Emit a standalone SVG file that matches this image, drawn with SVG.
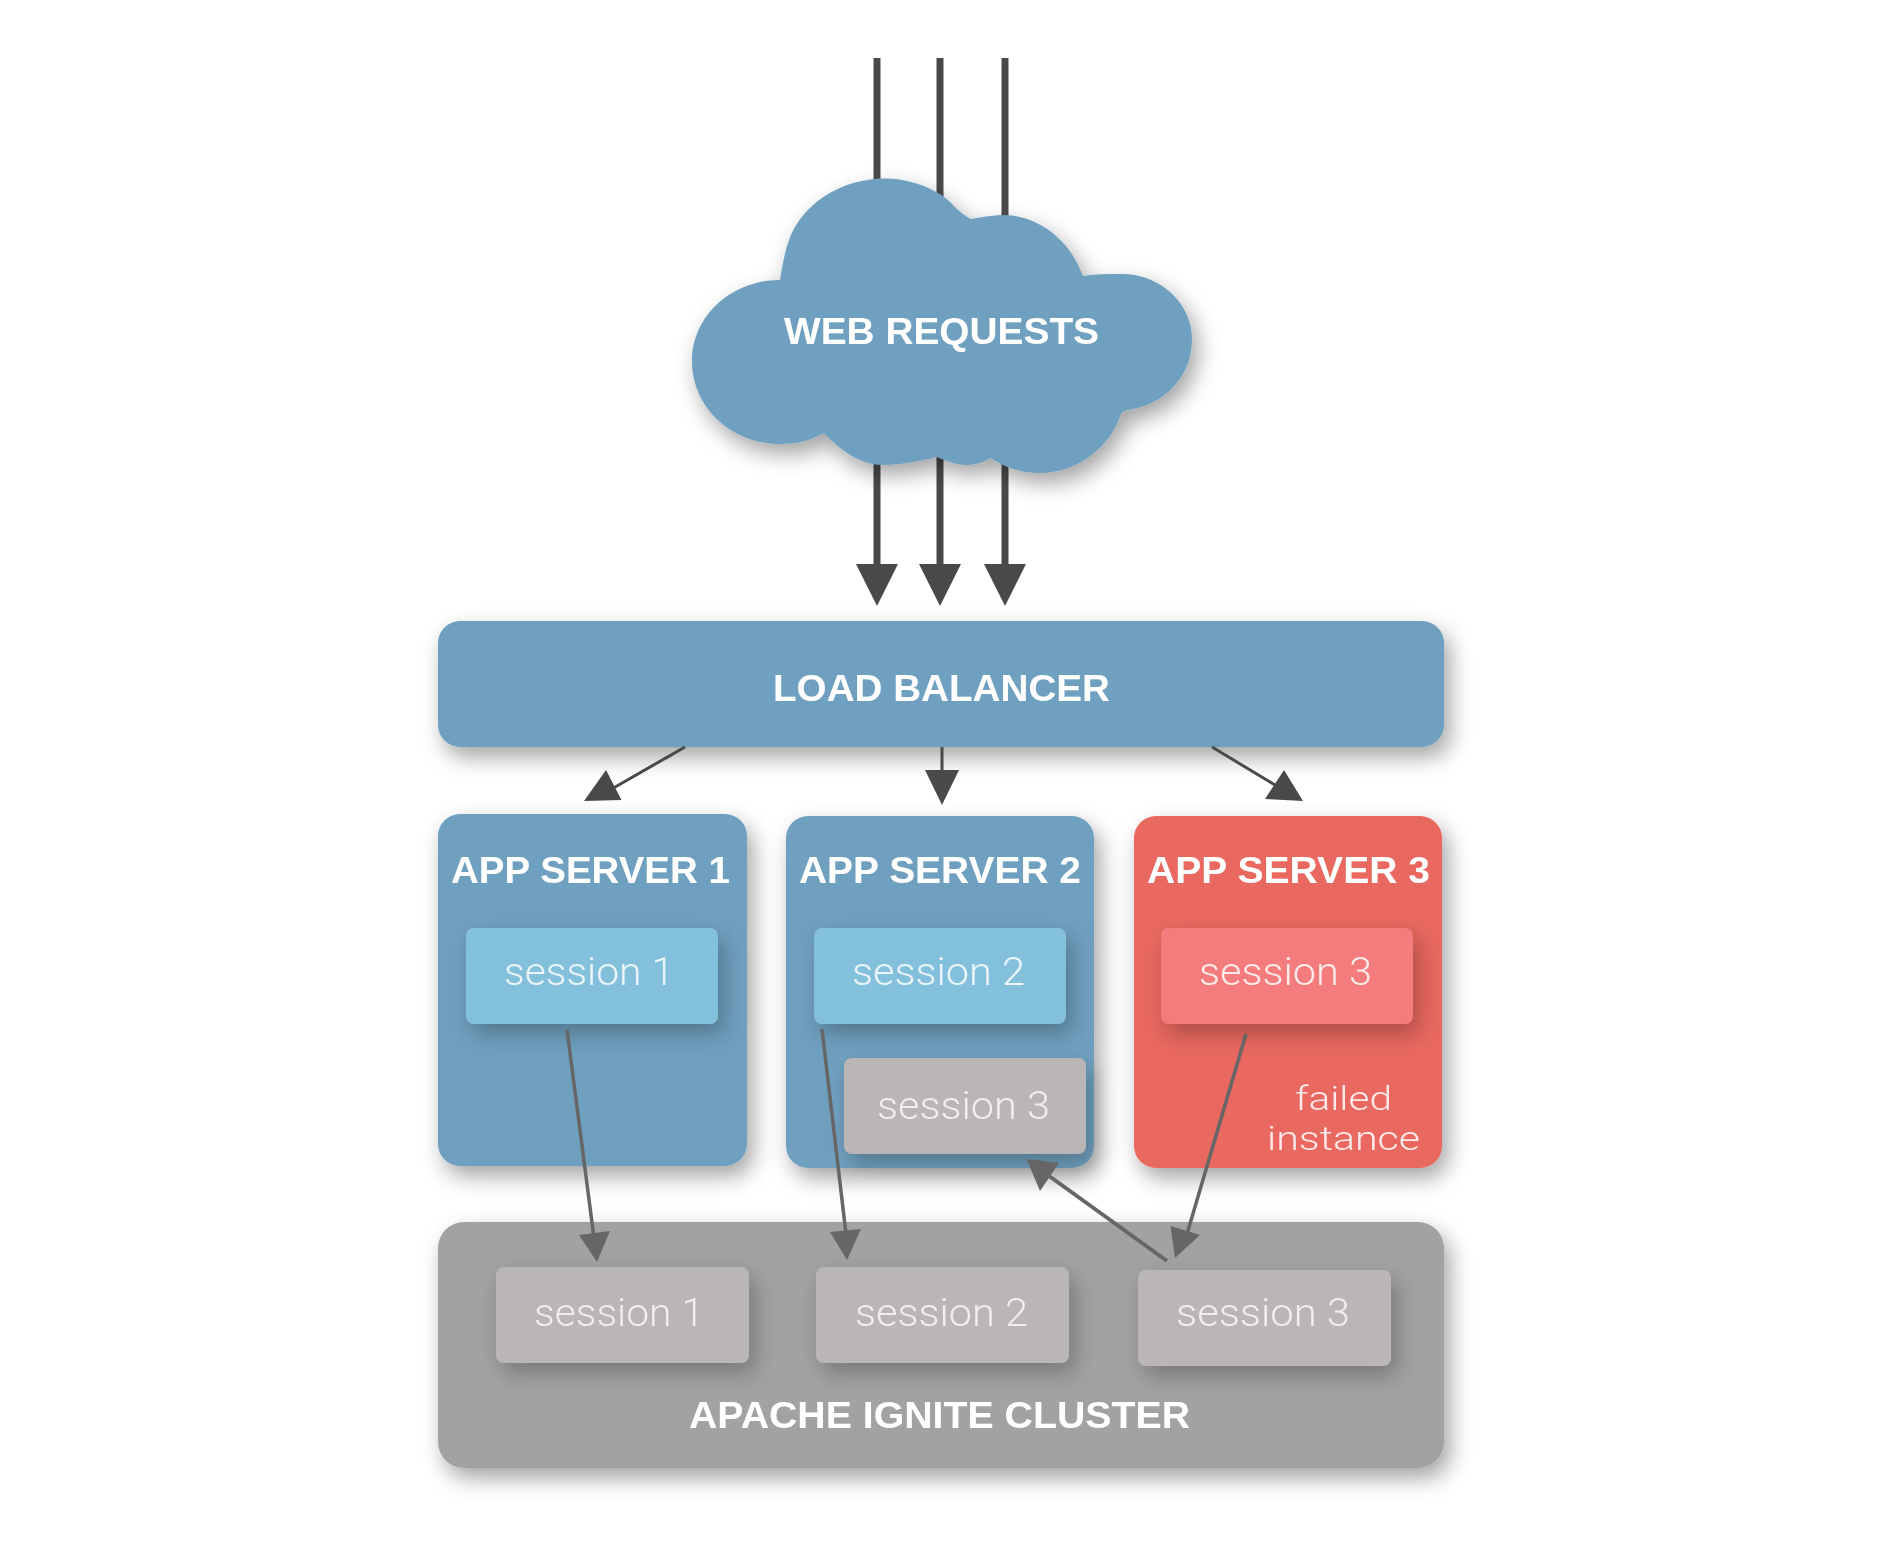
<svg xmlns="http://www.w3.org/2000/svg" width="1902" height="1568" viewBox="0 0 1902 1568">
<style>
text{font-family:"Liberation Sans",Arial,sans-serif;fill:#fff;text-anchor:start}
.t{font-weight:700;font-size:37px}
.s{font-family:Roboto,"Liberation Sans",sans-serif;font-weight:300;font-size:38px;fill:#ecf4f8}
.g{fill:#f0eeee}
.p{fill:#fdeaea}
.f{font-size:34px}
.blue{fill:#6fa0bf}.red{fill:#e96760}.lb{fill:#83c0dc}.lr{fill:#f57b7c}.gb{fill:#b9b6b5}.cl{fill:#a2a2a2}
.sh{filter:url(#shadow)}
.ss{filter:url(#shadow2)}
.w{stroke:#4a4a4a;stroke-width:7;fill:none}
.n{stroke:#4a4a4a;stroke-width:3;fill:none}
.m{stroke:#666;stroke-width:3.5;fill:none}
.ah{fill:#4a4a4a}.ag{fill:#666}
</style>
<defs>
<filter id="shadow" x="-25%" y="-25%" width="155%" height="165%"><feDropShadow dx="6" dy="10" stdDeviation="11" flood-color="#000" flood-opacity=".36"/></filter>
<filter id="shadow2" x="-25%" y="-40%" width="160%" height="200%"><feDropShadow dx="6" dy="10" stdDeviation="11" flood-color="#000" flood-opacity=".26"/></filter>
<filter id="soft" x="0" y="0" width="100%" height="100%" filterUnits="userSpaceOnUse"><feGaussianBlur stdDeviation=".7"/></filter>
</defs>
<rect width="1902" height="1568" fill="#fff"/>
<g filter="url(#soft)">
<g id="load-balancer"><rect class="blue sh" x="438" y="621" width="1006" height="126" rx="22"/><text class="t" x="773" y="701" textLength="337" lengthAdjust="spacingAndGlyphs">LOAD BALANCER</text></g>
<g id="app-server-1"><rect class="blue sh" x="438" y="814" width="309" height="352" rx="22"/><text class="t" x="451" y="883" textLength="279" lengthAdjust="spacingAndGlyphs">APP SERVER 1</text></g>
<g id="app-server-1-session-1"><rect class="lb ss" x="466" y="928" width="252" height="96" rx="8"/><text class="s" x="504" y="985" textLength="170" lengthAdjust="spacingAndGlyphs">session 1</text></g>
<g id="app-server-2"><rect class="blue sh" x="786" y="816" width="308" height="352" rx="22"/><text class="t" x="799" y="883" textLength="282" lengthAdjust="spacingAndGlyphs">APP SERVER 2</text></g>
<g id="app-server-2-session-2"><rect class="lb ss" x="814" y="928" width="252" height="96" rx="8"/><text class="s" x="852" y="985" textLength="173" lengthAdjust="spacingAndGlyphs">session 2</text></g>
<g id="app-server-2-session-3"><rect class="gb ss" x="844" y="1058" width="242" height="96" rx="8"/><text class="s g" x="877" y="1119" textLength="173" lengthAdjust="spacingAndGlyphs">session 3</text></g>
<g id="app-server-3"><rect class="red sh" x="1134" y="816" width="308" height="352" rx="22"/><text class="t" x="1147" y="883" textLength="283" lengthAdjust="spacingAndGlyphs">APP SERVER 3</text></g>
<g id="app-server-3-session-3"><rect class="lr ss" x="1161" y="928" width="252" height="96" rx="8"/><text class="s p" x="1199" y="985" textLength="173" lengthAdjust="spacingAndGlyphs">session 3</text></g>
<g id="failed-instance"><text class="s p f" x="1295" y="1110" textLength="97" lengthAdjust="spacingAndGlyphs">failed</text><text class="s p f" x="1267" y="1150" textLength="153" lengthAdjust="spacingAndGlyphs">instance</text></g>
<g id="ignite-cluster"><rect class="cl sh" x="438" y="1222" width="1006" height="246" rx="26"/><text class="t" x="689" y="1428" textLength="501" lengthAdjust="spacingAndGlyphs">APACHE IGNITE CLUSTER</text></g>
<g id="cluster-session-1"><rect class="gb ss" x="496" y="1267" width="253" height="96" rx="8"/><text class="s g" x="534" y="1326" textLength="170" lengthAdjust="spacingAndGlyphs">session 1</text></g>
<g id="cluster-session-2"><rect class="gb ss" x="816" y="1267" width="253" height="96" rx="8"/><text class="s g" x="855" y="1326" textLength="173" lengthAdjust="spacingAndGlyphs">session 2</text></g>
<g id="cluster-session-3"><rect class="gb ss" x="1138" y="1270" width="253" height="96" rx="8"/><text class="s g" x="1176" y="1326" textLength="174" lengthAdjust="spacingAndGlyphs">session 3</text></g>
<g id="connectors">
<path class="w" d="M877,58V570M940,58V570M1005,58V570"/>
<path class="ah" d="M856,564H898L877,606ZM919,564H961L940,606ZM984,564H1026L1005,606Z"/>
<path class="n" d="M685,747L610,790M942,747V775M1212,747L1280,788"/>
<path class="ah" d="M584,801L621.5,800L606,770ZM925,770H959L942,805ZM1265,799L1303,801L1284,770Z"/>
<path class="m" d="M567,1030L594,1238M822,1029L846,1234M1246,1034L1187,1234"/>
<path class="ag" d="M597,1262L579,1235L610,1231ZM847,1260L830,1232L861,1229ZM1175,1258L1170.5,1226L1200,1235Z"/>
<path class="m" style="stroke-width:4" d="M1167,1261L1045,1173"/>
<path class="ag" d="M1026.5,1159L1059,1163L1040,1191Z"/>
</g>
<g id="web-requests"><path class="blue sh" d="M780,280C783,262 785,252 788,243C800,205 840,178.5 885,178.5C907,178.5 928,186 943,196C952,203 960,214 971,219C982,217 994,215 1006,215C1040,217 1070,240 1083,276C1095,274 1108,274 1122,274C1161,274 1192,304 1192,339C1192,376 1165,405 1128,410Q1122,411 1121,414C1110,447 1078,473 1040,473C1020,473 1005,467 990.6,458C982,463 975,465 966,465C955,465 945,460 937,457C920,461 902,465 883,465C860,465 840,450 824,433C810,441 797,444 780,444C731,444 692,407 692,361.5C692,316 731,280 780,280Z"/><text class="t" x="784" y="344" textLength="315" lengthAdjust="spacingAndGlyphs">WEB REQUESTS</text></g>
</g>
</svg>
